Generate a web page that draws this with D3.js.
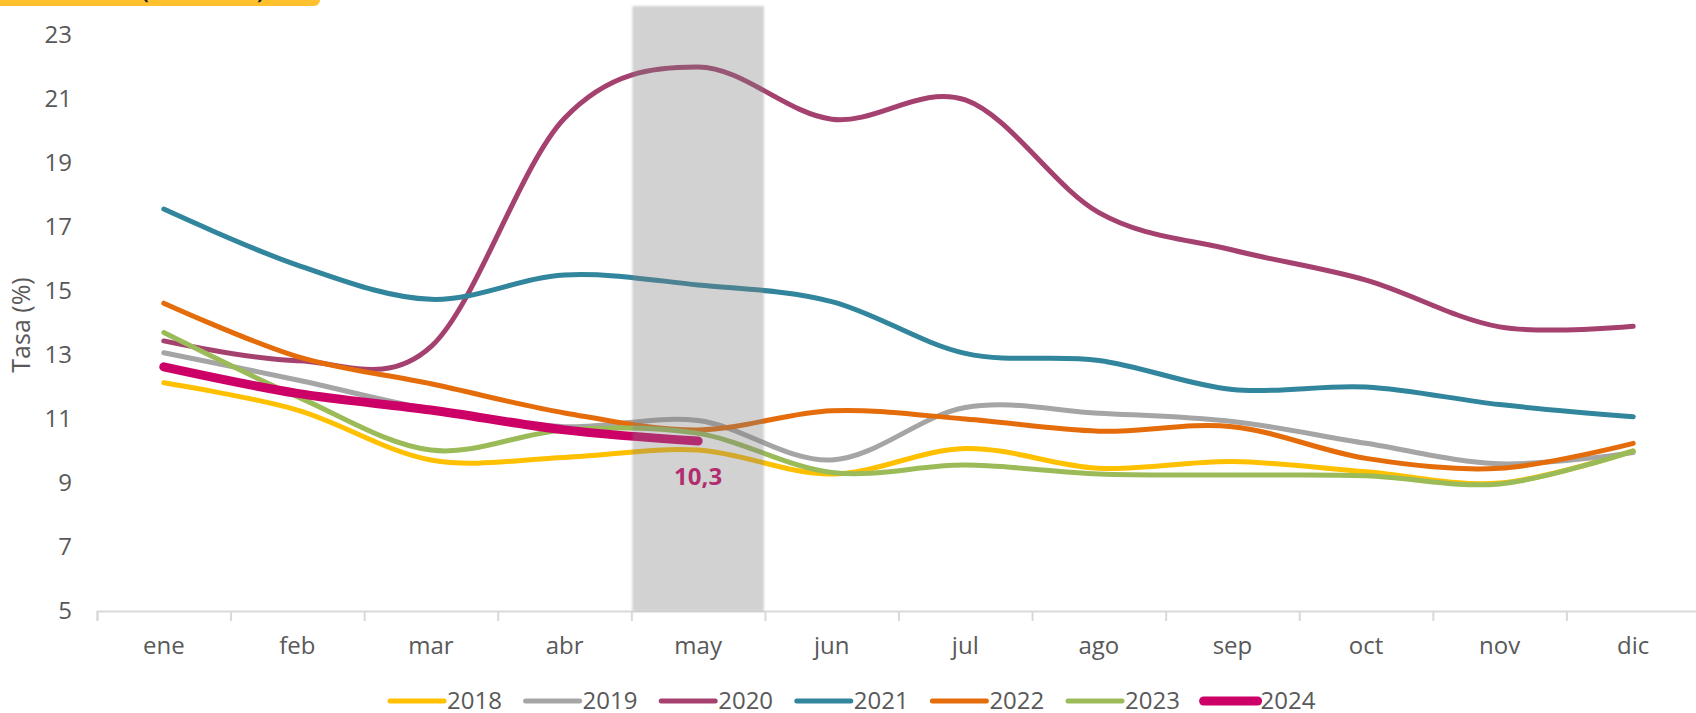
<!DOCTYPE html>
<html>
<head>
<meta charset="utf-8">
<script src="https://cdnjs.cloudflare.com/ajax/libs/d3/7.8.5/d3.min.js"></script>
<style>
  body { margin: 0; background: #fff; }
  svg { display: block; font-family: "Open Sans", sans-serif; }
</style>
</head>
<body>
<div id="chart"></div>
<script>
// datos
var months = ['ene', 'feb', 'mar', 'abr', 'may', 'jun', 'jul', 'ago', 'sep', 'oct', 'nov', 'dic'];
var years = ['2018', '2019', '2020', '2021', '2022', '2023', '2024'];
var yTicks = [5, 7, 9, 11, 13, 15, 17, 19, 21, 23];

var v2018 = [12.13, 11.28, 9.72, 9.8, 10.03, 9.28, 10.08, 9.46, 9.67, 9.35, 9.0, 10.0];
var v2019 = [13.07, 12.22, 11.3, 10.76, 10.95, 9.72, 11.36, 11.18, 10.92, 10.24, 9.6, 9.95];
var v2020 = [13.44, 12.82, 13.26, 20.4, 22.0, 20.37, 20.97, 17.45, 16.28, 15.34, 13.88, 13.9];
var v2021 = [17.56, 15.81, 14.74, 15.5, 15.19, 14.67, 13.05, 12.83, 11.92, 12.0, 11.45, 11.07];
var v2022 = [14.62, 12.95, 12.1, 11.19, 10.66, 11.26, 11.0, 10.62, 10.76, 9.77, 9.46, 10.24];
var v2023 = [13.7, 11.7, 10.03, 10.66, 10.55, 9.33, 9.56, 9.28, 9.25, 9.23, 8.97, 10.0];
var v2024 = [12.63, 11.8, 11.28, 10.66, 10.31];

var colors = ['#FFC000', '#A5A5A5', '#A5416F', '#31859C', '#E46C0A', '#9BBB59', '#CC0066'];
var values = [v2018, v2019, v2020, v2021, v2022, v2023, v2024];
var highlight = 'may';
var lastLabel = '10,3';

var width = 1696, height = 713;
var textColor = '#595959';

var svg = d3.select('#chart').append('svg')
  .attr('width', width)
  .attr('height', height);

// escalas
var x = d3.scaleBand().domain(months).range([97, 1700]).padding(0);
var xb = d3.scaleLinear().domain([0, months.length]).range([97, 1700]);
var y = d3.scaleLinear().domain([5, 23]).range([611, 35]);
var cx = function (m) { return x(m) + x.bandwidth() / 2; };

// titulo (cortado arriba)
svg.append('rect')
  .attr('x', -10).attr('y', -40)
  .attr('width', 330).attr('height', 46)
  .attr('rx', 6)
  .attr('fill', '#FFC12E');
svg.append('text')
  .attr('x', 0).attr('y', -1)
  .attr('font-size', 20)
  .attr('font-weight', 'bold')
  .attr('fill', '#262626')
  .text('Tasa mensual (2018 - 2024)');

// eje y (solo etiquetas)
var gy = svg.append('g')
  .attr('transform', 'translate(72,0)')
  .call(d3.axisLeft(y).tickValues(yTicks).tickSize(0).tickPadding(0));
gy.select('.domain').remove();
gy.selectAll('text')
  .attr('font-size', 24)
  .attr('font-family', '"Open Sans", sans-serif')
  .attr('fill', textColor);

svg.append('text')
  .attr('transform', 'translate(30,325) rotate(-90)')
  .attr('text-anchor', 'middle')
  .attr('font-size', 25)
  .attr('fill', textColor)
  .text('Tasa (%)');

// eje x
var gx = svg.append('g')
  .attr('transform', 'translate(0,611)')
  .call(d3.axisBottom(xb).tickValues(d3.range(months.length + 1)).tickSize(10).tickFormat(''));
gx.select('.domain').attr('stroke', '#D9D9D9').attr('stroke-width', 2);
gx.selectAll('.tick line').attr('stroke', '#D9D9D9').attr('stroke-width', 2);

var gxl = svg.append('g')
  .attr('transform', 'translate(0,611)')
  .call(d3.axisBottom(x).tickSize(0).tickPadding(26));
gxl.select('.domain').remove();
gxl.selectAll('text')
  .attr('font-size', 24)
  .attr('font-family', '"Open Sans", sans-serif')
  .attr('fill', textColor);

// lineas
var line = d3.line()
  .x(function (d, i) { return cx(months[i]); })
  .y(function (d) { return y(d); })
  .curve(d3.curveCardinal.tension(0));

svg.append('g').selectAll('path')
  .data(values)
  .enter()
  .append('path')
  .attr('d', line)
  .attr('fill', 'none')
  .attr('stroke', function (d, i) { return colors[i]; })
  .attr('stroke-width', function (d, i) { return i === 6 ? 9 : 5; })
  .attr('stroke-linecap', 'round')
  .attr('stroke-linejoin', 'round');

// etiqueta ultimo dato
svg.append('text')
  .attr('x', cx(months[v2024.length - 1]))
  .attr('y', y(v2024[v2024.length - 1]) + 44)
  .attr('text-anchor', 'middle')
  .attr('font-size', 24)
  .attr('font-weight', 'bold')
  .attr('fill', '#CC0066')
  .text(lastLabel);

// banda gris del mes actual
var defs = svg.append('defs');
defs.append('filter').attr('id', 'soft')
  .attr('x', '-10%').attr('width', '120%')
  .append('feGaussianBlur').attr('stdDeviation', 1.2);
svg.append('rect')
  .attr('x', x(highlight) + 1)
  .attr('y', 6)
  .attr('width', x.bandwidth() - 2)
  .attr('height', 605)
  .attr('fill', '#808080')
  .attr('opacity', 0.35)
  .attr('filter', 'url(#soft)');

// leyenda
var legend = svg.append('g').selectAll('g')
  .data(years)
  .enter()
  .append('g')
  .attr('transform', function (d, i) { return 'translate(' + (390 + i * 135.6) + ',701)'; });
legend.append('line')
  .attr('x1', 0).attr('x2', 54)
  .attr('stroke', function (d, i) { return colors[i]; })
  .attr('stroke-width', function (d, i) { return i === 6 ? 9 : 5; })
  .attr('stroke-linecap', 'round');
legend.append('text')
  .attr('x', 57)
  .attr('dy', '0.35em')
  .attr('font-size', 24)
  .attr('fill', textColor)
  .text(function (d) { return d; });
</script>
</body>
</html>
